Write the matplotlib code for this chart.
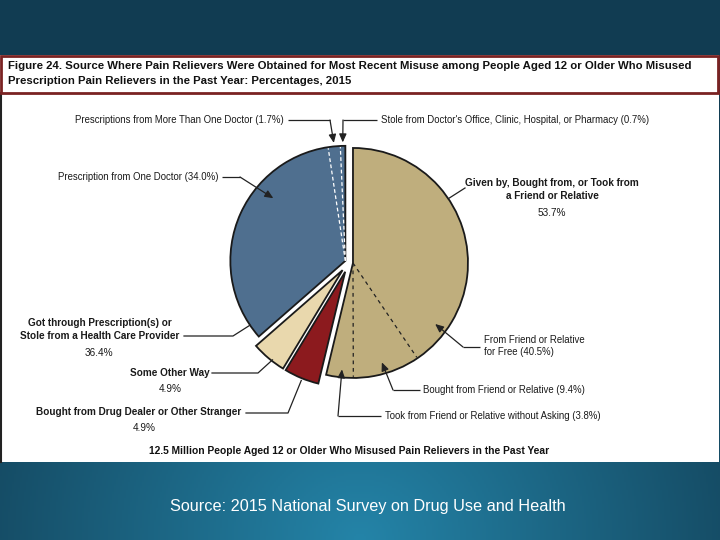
import numpy as np
import matplotlib
matplotlib.use("Agg")
import matplotlib.pyplot as plt
from matplotlib.patches import Rectangle

# ---------------- data ----------------
group_labels = ["Given by, Bought from, or Took from\na Friend or Relative",
                "Bought from Drug Dealer or Other Stranger",
                "Some Other Way",
                "Got through Prescription(s) or\nStole from a Health Care Provider"]
group_values = [53.7, 4.9, 4.9, 36.4]
group_colors = ["#BFAE7D", "#8C1A1E", "#E9D8AD", "#4F6F8F"]

friend_sub_labels = ["From Friend or Relative\nfor Free",
                     "Bought from Friend or Relative",
                     "Took from Friend or Relative without Asking"]
friend_sub_values = [40.5, 9.4, 3.8]

provider_sub_labels = ["Prescription from One Doctor",
                       "Prescriptions from More Than One Doctor",
                       "Stole from Doctor's Office, Clinic, Hospital, or Pharmacy"]
provider_sub_values = [34.0, 1.7, 0.7]

title_lines = ["Figure 24. Source Where Pain Relievers Were Obtained for Most Recent Misuse among People Aged 12 or Older Who Misused",
               "Prescription Pain Relievers in the Past Year: Percentages, 2015"]
footer = "12.5 Million People Aged 12 or Older Who Misused Pain Relievers in the Past Year"
source = "Source: 2015 National Survey on Drug Use and Health"

# ---------------- figure ----------------
W, H = 720, 540
fig = plt.figure(figsize=(7.2, 5.4), dpi=100)
ax = fig.add_axes([0, 0, 1, 1])
ax.set_xlim(0, W)
ax.set_ylim(0, H)
FONT = ["Liberation Sans", "DejaVu Sans"]
renderer = fig.canvas.get_renderer()


def Y(y):  # image y (top-down) -> data y
    return H - y


def size_for(s, target_w, **kw):
    t = ax.text(0, 0, s, fontsize=10, family=FONT, **kw)
    w = t.get_window_extent(renderer).width
    t.remove()
    return 10 * target_w / w


TITLE_FS = size_for(title_lines[0], 684, fontweight="bold")
SUB_FS = size_for("Prescriptions from More Than One Doctor (1.7%)", 211)
MAIN_FS = size_for("Stole from a Health Care Provider", 159, fontweight="bold")
FOOT_FS = size_for(footer, 399, fontweight="bold")
SRC_FS = size_for(source, 396)

# background gradient
xx, yy = np.meshgrid(np.linspace(0, W, 360), np.linspace(0, H, 270))
d = np.sqrt(((xx - 360) / 480.0) ** 2 + ((yy - 0) / 430.0) ** 2)
t = np.clip(d, 0, 1)
light = np.array([36, 132, 168]) / 255.0
dark = np.array([17, 60, 82]) / 255.0
img = light[None, None, :] * (1 - t[..., None]) + dark[None, None, :] * t[..., None]
ax.imshow(img, extent=[0, W, 0, H], origin="lower", zorder=0, aspect="auto")

# white panel
ax.add_patch(Rectangle((0, Y(462)), 719, 462 - 55, facecolor="white", edgecolor="none", zorder=1))
ax.plot([1, 1], [Y(93), Y(462)], color="#222222", lw=1.5, zorder=2)
ax.add_patch(Rectangle((1, Y(93)), 717, 93 - 56, facecolor="white", edgecolor="#7A2222", lw=2, zorder=2))
ax.text(8, Y(66), title_lines[0], fontsize=TITLE_FS, fontweight="bold", family=FONT,
        va="center", ha="left", color="#111111", zorder=3)
ax.text(8, Y(81), title_lines[1], fontsize=TITLE_FS, fontweight="bold", family=FONT,
        va="center", ha="left", color="#111111", zorder=3)

# ---------------- pie ----------------
R = 115
CX, CY = 349, Y(262.5)
wedges, _ = ax.pie(group_values, colors=group_colors, startangle=90, counterclock=False,
                   explode=[4, 10, 10, 4], radius=R, center=(CX, CY), frame=True,
                   wedgeprops=dict(edgecolor="#1a1a1a", linewidth=1.3))
for w in wedges:
    w.set_zorder(4)

total = sum(group_values)


def boundary_angles(start_deg, values):
    out = []
    acc = 0.0
    for v in values[:-1]:
        acc += v
        out.append(start_deg - acc / total * 360.0)
    return out


def mid_angle(start_deg, values, i):
    acc = sum(values[:i]) + values[i] / 2.0
    return start_deg - acc / total * 360.0


def pt(w, ang, f=1.0):
    cx, cy = w.center
    a = np.deg2rad(ang)
    return (cx + f * w.r * np.cos(a), cy + f * w.r * np.sin(a))


tan_w, red_w, beige_w, blue_w = wedges
tan_start = 90.0
blue_start = 90.0 - sum(group_values[:3]) / total * 360.0

for ang in boundary_angles(tan_start, friend_sub_values):
    p = pt(tan_w, ang, 0.99)
    ax.plot([tan_w.center[0], p[0]], [tan_w.center[1], p[1]], color="#222222",
            lw=0.9, ls=(0, (3, 3)), zorder=5)
for ang in boundary_angles(blue_start, provider_sub_values):
    p = pt(blue_w, ang, 0.99)
    ax.plot([blue_w.center[0], p[0]], [blue_w.center[1], p[1]], color="white",
            lw=0.9, ls=(0, (3, 2)), zorder=5)

ax.set_xlim(0, W)
ax.set_ylim(0, H)
ax.axis("off")

# ---------------- labels ----------------
LC = "#222222"
arrow_kw = dict(arrowstyle="-|>,head_length=0.5,head_width=0.22", color=LC, lw=0.9,
                shrinkA=0, shrinkB=0)


def leader(points, target, arrow=True):
    xs = [p[0] for p in points]
    ys = [Y(p[1]) for p in points]
    if arrow:
        ax.plot(xs, ys, color=LC, lw=0.9, zorder=6, solid_capstyle="butt")
        ax.annotate("", xy=target, xytext=(xs[-1], ys[-1]), arrowprops=arrow_kw, zorder=6)
    else:
        ax.plot(xs + [target[0]], ys + [target[1]], color=LC, lw=0.9, zorder=6)


SUB = dict(fontsize=SUB_FS, family=FONT, color="#1a1a1a", zorder=6)
MAIN = dict(fontsize=MAIN_FS, family=FONT, fontweight="bold", color="#1a1a1a", zorder=6)
PCT = dict(fontsize=MAIN_FS, family=FONT, color="#1a1a1a", zorder=6)

# provider sub labels
ax.text(284, Y(120), f"{provider_sub_labels[1]} ({provider_sub_values[1]}%)", ha="right", va="center", **SUB)
leader([(288, 120), (330, 120)], pt(blue_w, mid_angle(blue_start, provider_sub_values, 1), 1.03))
ax.text(381, Y(120), f"{provider_sub_labels[2]} ({provider_sub_values[2]}%)", ha="left", va="center", **SUB)
leader([(377, 120), (343, 120)], pt(blue_w, mid_angle(blue_start, provider_sub_values, 2), 1.03))
ax.text(218, Y(177), f"{provider_sub_labels[0]} ({provider_sub_values[0]}%)", ha="right", va="center", **SUB)
leader([(222, 177), (240, 177)], pt(blue_w, 139, 0.83))

# friend main
ax.text(552, Y(189.5), group_labels[0], ha="center", va="center", linespacing=1.3, **MAIN)
ax.text(552, Y(213), f"{group_values[0]}%", ha="center", va="center", **PCT)
leader([(465, 188)], pt(tan_w, 34, 1.0), arrow=False)

# friend subs
l0a, l0b = friend_sub_labels[0].split("\n")
ax.text(484, Y(346), f"{l0a}\n{l0b} ({friend_sub_values[0]}%)",
        ha="left", va="center", linespacing=1.25, **SUB)
leader([(480, 347), (463, 347)], pt(tan_w, -36.6, 0.89))
ax.text(423, Y(390), f"{friend_sub_labels[1]} ({friend_sub_values[1]}%)", ha="left", va="center", **SUB)
leader([(420, 390), (393, 390)], pt(tan_w, -73.8, 0.9))
ax.text(385, Y(416), f"{friend_sub_labels[2]} ({friend_sub_values[2]}%)", ha="left", va="center", **SUB)
leader([(381, 416), (338, 416)], pt(tan_w, -95.9, 0.93))

# provider main
ax.text(100, Y(329.5), group_labels[3], ha="center", va="center", linespacing=1.3, **MAIN)
ax.text(99, Y(353), f"{group_values[3]}%", ha="center", va="center", **PCT)
leader([(184, 336), (233, 336)], pt(blue_w, 214, 1.0), arrow=False)

# some other way
ax.text(170, Y(373), group_labels[2], ha="center", va="center", **MAIN)
ax.text(170, Y(389), f"{group_values[2]}%", ha="center", va="center", **PCT)
leader([(212, 373), (258, 373)], pt(beige_w, -128, 0.99), arrow=False)

# drug dealer
ax.text(138.5, Y(412), group_labels[1], ha="center", va="center", **MAIN)
ax.text(144, Y(428), f"{group_values[1]}%", ha="center", va="center", **PCT)
leader([(246, 413), (288, 413)], pt(red_w, -112, 1.02), arrow=False)

ax.text(349.5, Y(451), footer, ha="center", va="center", fontsize=FOOT_FS, fontweight="bold",
        family=FONT, color="#111111", zorder=6)

ax.text(368, Y(506), source, ha="center", va="center", fontsize=SRC_FS, family=FONT,
        color="white", zorder=6)

fig.savefig("out.png", dpi=100)
